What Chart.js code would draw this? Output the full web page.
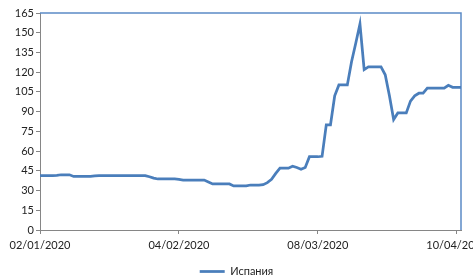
<!DOCTYPE html>
<html>
<head>
<meta charset="utf-8">
<script src="https://cdn.jsdelivr.net/npm/chart.js@4.4.1/dist/chart.umd.min.js"></script>
<style>
  html, body { margin: 0; padding: 0; background: #fff; }
  #wrap { width: 473px; height: 280px; }
</style>
</head>
<body>
<div id="wrap"><canvas id="myChart" width="473" height="280"></canvas></div>
<script>
// daily values, 02/01/2020 .. 11/04/2020
let seriesName = "Испания";
let startDate = [2020, 0, 2];
let tickEvery = 33;
let spain = [
    41.3, 41.3, 41.3, 41.3, 41.5, 42, 42, 42, 40.7, 40.7,
    40.7, 40.7, 40.7, 41.2, 41.4, 41.4, 41.4, 41.4, 41.4, 41.4,
    41.4, 41.4, 41.4, 41.4, 41.4, 41.4, 40.5, 39.5, 38.8, 38.8,
    38.8, 38.8, 38.8, 38.5, 38, 38, 38, 38, 38, 38,
    36.5, 35, 35, 35, 35, 35, 33.5, 33.5, 33.5, 33.5,
    34.2, 34.2, 34.2, 34.5, 36, 38.5, 43, 47, 47, 47,
    48.5, 47.5, 46.2, 47.5, 55.7, 55.7, 55.7, 56, 80, 80,
    102, 110.3, 110.3, 110.3, 128, 142, 156.6, 122, 124, 124,
    124, 124, 118, 102, 84, 89, 89, 89, 98, 102,
    104, 104, 107.8, 107.8, 107.8, 107.8, 107.8, 110, 108.5, 108.5,
    108.5
];
let yMax = 165;
let yStep = 15;

// build date labels
let labels = [];
for (let i = 0; i < spain.length; i++) {
    let d = new Date(startDate[0], startDate[1], startDate[2] + i);
    let dd = String(d.getDate()).padStart(2, "0");
    let mm = String(d.getMonth() + 1).padStart(2, "0");
    labels.push(dd + "/" + mm + "/" + d.getFullYear());
}

let lineBlue = "#4a7ebb";
let axisGray = "#868686";
let font = { family: "Lato", size: 11 };

// blue top and right edge of the plot area
const plotFrame = {
    id: "plotFrame",
    beforeDatasetsDraw(chart) {
        let a = chart.chartArea;
        let ctx = chart.ctx;
        ctx.save();
        ctx.strokeStyle = "#5b8ac6";
        ctx.lineWidth = 1.5;
        ctx.beginPath();
        ctx.moveTo(a.left, a.top);
        ctx.lineTo(a.right, a.top);
        ctx.lineTo(a.right, a.bottom);
        ctx.stroke();
        ctx.restore();
    }
};

new Chart("myChart", {
    type: "line",
    data: {
        labels: labels,
        datasets: [{
            label: seriesName,
            data: spain,
            borderColor: lineBlue,
            backgroundColor: lineBlue,
            borderWidth: 2.75,
            pointRadius: 0,
            tension: 0
        }]
    },
    options: {
        responsive: false,
        animation: false,
        layout: { padding: { top: 13, right: 0, left: 0, bottom: -7 } },
        plugins: {
            tooltip: { enabled: false },
            legend: {
                position: "bottom",
                labels: {
                    usePointStyle: true,
                    pointStyle: "line",
                    pointStyleWidth: 25,
                    padding: 4,
                    color: "#222",
                    font: font
                }
            }
        },
        scales: {
            x: {
                offset: false,
                afterBuildTicks: s => {
                    s.ticks = s.ticks.filter(t => t.value % tickEvery === 0);
                },
                afterFit: s => {
                    s.paddingLeft = 0;
                    s.paddingRight = 0;
                    s.height = 32;
                },
                grid: { drawOnChartArea: false, tickLength: 4, color: axisGray },
                border: { color: axisGray, width: 1 },
                ticks: {
                    autoSkip: false,
                    maxRotation: 0,
                    padding: 5,
                    color: "#222",
                    font: font,
                    callback: function (v) { return labels[v]; }
                }
            },
            y: {
                min: 0,
                max: yMax,
                afterFit: s => { s.width = 40; },
                grid: { drawOnChartArea: false, tickLength: 4, color: axisGray },
                border: { color: axisGray, width: 1 },
                ticks: { stepSize: yStep, padding: 2, color: "#222", font: font }
            },
            // empty strip on the right so the plot ends at the same place
            yr: {
                position: "right",
                min: 0,
                max: yMax,
                afterFit: s => { s.width = 12; },
                grid: { display: false },
                border: { display: false },
                ticks: { display: false }
            }
        }
    },
    plugins: [plotFrame]
});
</script>
</body>
</html>
